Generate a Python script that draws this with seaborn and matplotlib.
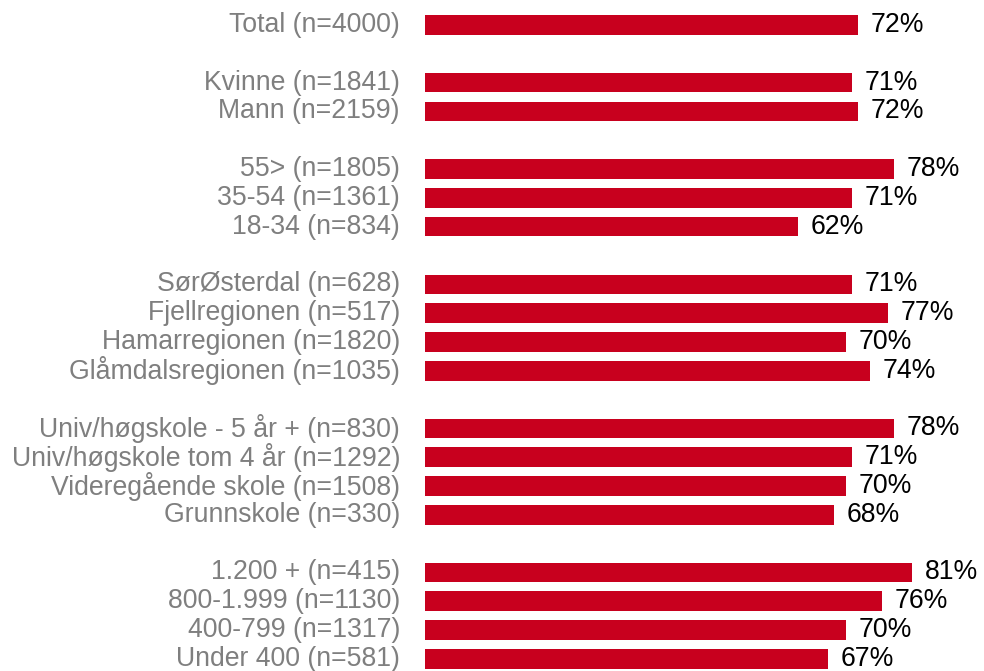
import matplotlib
matplotlib.use("Agg")
import matplotlib.pyplot as plt
import seaborn as sns
import pandas as pd

groups = [
    ["Total (n=4000)"],
    ["Kvinne (n=1841)", "Mann (n=2159)"],
    ["55> (n=1805)", "35-54 (n=1361)", "18-34 (n=834)"],
    ["SørØsterdal (n=628)", "Fjellregionen (n=517)", "Hamarregionen (n=1820)", "Glåmdalsregionen (n=1035)"],
    ["Univ/høgskole - 5 år + (n=830)", "Univ/høgskole tom 4 år (n=1292)", "Videregående skole (n=1508)", "Grunnskole (n=330)"],
    ["1.200 + (n=415)", "800-1.999 (n=1130)", "400-799 (n=1317)", "Under 400 (n=581)"],
]
values = [
    [72],
    [71, 72],
    [78, 71, 62],
    [71, 77, 70, 74],
    [78, 71, 70, 68],
    [81, 76, 70, 67],
]

sns.set_theme(style="white")
plt.rcParams["font.family"] = ["Liberation Sans", "DejaVu Sans"]

labels, vals, pos = [], [], []
p = 0
for g, v in zip(groups, values):
    for lab, val in zip(g, v):
        labels.append(lab)
        vals.append(val)
        pos.append(p)
        p += 1
    p += 1

df = pd.DataFrame({"label": labels, "value": vals, "pos": pos})

fig = plt.figure(figsize=(9.84, 6.71), dpi=100)
ax = fig.add_axes([425 / 984, 0, 1 - 425 / 984, 1])
sns.barplot(data=df, x="value", y="pos", orient="h", native_scale=True,
            color="#C8001E", saturation=1, width=0.68, ax=ax, linewidth=0)

ax.set_xlim(0, 93.0)
ax.set_ylim(22.42, -0.868)
ax.set_yticks(df["pos"])
ax.set_yticklabels(df["label"], fontsize=19.2, color="#7F7F7F")
for t in ax.get_yticklabels():
    t.set_va("center")
ax.tick_params(axis="y", length=0, pad=18)
ax.set_xticks([])
ax.set_xlabel("")
ax.set_ylabel("")
for s in ax.spines.values():
    s.set_visible(False)

for v, y in zip(df["value"], df["pos"]):
    ax.text(v + 2.2, y, f"{v}%", va="center", ha="left", fontsize=19.2, color="black")

fig.savefig("out.png", dpi=100)
